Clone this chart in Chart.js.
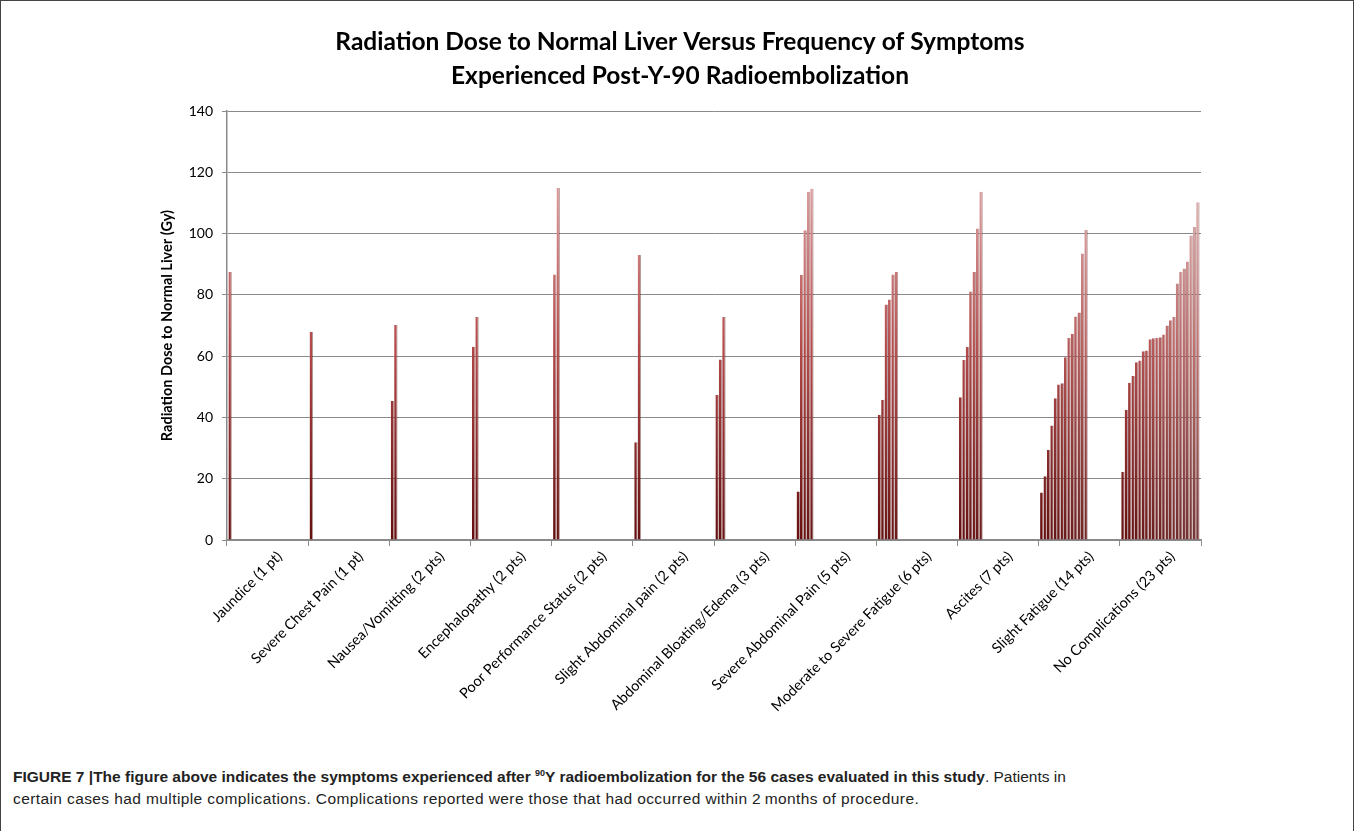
<!DOCTYPE html>
<html lang="en">
<head>
    <meta charset="UTF-8">
    <title>Radiation Dose to Normal Liver Versus Frequency of Symptoms</title>
    <script src="https://cdn.jsdelivr.net/npm/chart.js"></script>
    <style>
        body {
            margin: 0;
            background: #fff;
            overflow: hidden;
        }
        .frame {
            position: absolute;
            left: 0;
            top: 0;
            width: 1352px;
            height: 840px;
            border: 1px solid #444;
        }
        .plot {
            position: absolute;
            left: 0;
            top: 0;
        }
        .caption {
            position: absolute;
            left: 13px;
            top: 762px;
            font-family: "Liberation Sans", Arial, sans-serif;
            font-size: 15.5px;
            line-height: 22px;
            color: #222;
            white-space: nowrap;
        }
        .caption sup {
            font-size: 9px;
            vertical-align: 6px;
        }
        .caption .second {
            letter-spacing: 0.4px;
        }
    </style>
</head>
<body>
    <div class="frame"></div>
    <canvas id="doseChart" class="plot" width="1354" height="740"></canvas>
    <div class="caption">
        <b>FIGURE 7 |The figure above indicates the symptoms experienced after <sup>90</sup>Y radioembolization for the 56 cases evaluated in this study</b>. Patients in<br>
        <span class="second">certain cases had multiple complications. Complications reported were those that had occurred within 2&#8201;months of procedure.</span>
    </div>

    <script>
        // categories (x axis)
        const categories = [
            'Jaundice (1 pt)',
            'Severe Chest Pain (1 pt)',
            'Nausea/Vomitting (2 pts)',
            'Encephalopathy (2 pts)',
            'Poor Performance Status (2 pts)',
            'Slight Abdominal pain (2 pts)',
            'Abdominal Bloating/Edema (3 pts)',
            'Severe Abdominal Pain (5 pts)',
            'Moderate to Severe Fatigue (6 pts)',
            'Ascites (7 pts)',
            'Slight Fatigue (14 pts)',
            'No Complications (23 pts)'
        ];

        // dose per patient (Gy), sorted as in the figure
        const jaundice = [87.5];
        const severeChestPain = [68];
        const nauseaVomiting = [45.4, 70.2];
        const encephalopathy = [63.1, 72.8];
        const poorPerformance = [86.7, 115];
        const slightAbdominalPain = [31.9, 93];
        const bloatingEdema = [47.3, 58.9, 72.8];
        const severeAbdominalPain = [15.8, 86.6, 101.1, 113.7, 114.7];
        const modSevereFatigue = [40.8, 45.8, 76.9, 78.5, 86.7, 87.5];
        const ascites = [46.6, 58.8, 63, 81.1, 87.5, 101.7, 113.7];
        const slightFatigue = [15.5, 20.8, 29.5, 37.4, 46.3, 50.8, 51.2, 59.7, 66, 67.3, 73, 74.3, 93.5, 101.2];
        const noComplications = [22.3, 42.4, 51.3, 53.5, 58, 58.6, 61.6, 61.9, 65.5, 65.9, 66, 66.2, 67.1,
                                 70, 71.7, 72.8, 83.7, 87.5, 88.6, 90.9, 99.4, 102.2, 110.3];

        const groups = [jaundice, severeChestPain, nauseaVomiting, encephalopathy, poorPerformance,
                        slightAbdominalPain, bloatingEdema, severeAbdominalPain, modSevereFatigue,
                        ascites, slightFatigue, noComplications];

        const yMin = 0;
        const yMax = 140;
        const yStep = 20;

        const titleLines = [
            'Radiation Dose to Normal Liver Versus Frequency of Symptoms',
            'Experienced Post-Y-90 Radioembolization'
        ];
        const yTitle = 'Radiation Dose to Normal Liver (Gy)';

        const maxPatients = Math.max(...groups.map(g => g.length));

        function mix(a, b, t) {
            const c = a.map((v, i) => Math.round(v + (b[i] - v) * t));
            return `rgb(${c[0]}, ${c[1]}, ${c[2]})`;
        }

        // Excel style gradient, a bit paler for the later patients
        function barFill(ctx) {
            const chart = ctx.chart;
            const area = chart.chartArea;
            if (!area) return '#a04040';
            const t = (ctx.datasetIndex / (maxPatients - 1)) * 0.6;
            const g = chart.ctx.createLinearGradient(0, area.bottom, 0, area.top);
            g.addColorStop(0, mix([100, 14, 14], [130, 80, 80], t));
            g.addColorStop(0.45, mix([178, 72, 72], [198, 145, 145], t));
            g.addColorStop(0.85, mix([222, 160, 160], [228, 205, 205], t));
            g.addColorStop(1, mix([235, 200, 200], [235, 220, 220], t));
            return g;
        }

        // one dataset per patient slot, so bars pile up from the left of each category
        const datasets = [];
        for (let j = 0; j < maxPatients; j++) {
            datasets.push({
                label: `Patient ${j + 1}`,
                data: groups.map(g => (j < g.length ? g[j] : null)),
                backgroundColor: barFill,
                borderColor: 'rgba(90, 25, 25, 0.45)',
                borderWidth: { right: 1 },
                borderSkipped: 'bottom',
                categoryPercentage: 0.965,
                barPercentage: 1
            });
        }

        const gridGrey = '#8a8a8a';

        new Chart(document.getElementById('doseChart').getContext('2d'), {
            type: 'bar',
            data: {
                labels: categories,
                datasets: datasets
            },
            options: {
                responsive: false,
                animation: false,
                devicePixelRatio: 1,
                layout: {
                    padding: { left: 159, right: 153, top: 0, bottom: 0 }
                },
                plugins: {
                    legend: { display: false },
                    tooltip: { enabled: false },
                    title: {
                        display: true,
                        text: titleLines,
                        color: '#000',
                        font: { family: 'Lato', size: 24.5, weight: 'bold', lineHeight: 1.35 },
                        padding: { top: 26, bottom: 19 }
                    }
                },
                scales: {
                    x: {
                        grid: {
                            drawOnChartArea: false,
                            drawTicks: true,
                            tickLength: 6,
                            offset: true,
                            color: gridGrey
                        },
                        border: { color: gridGrey, width: 1.5 },
                        ticks: {
                            autoSkip: false,
                            minRotation: 45,
                            maxRotation: 45,
                            padding: 2,
                            labelOffset: 12,
                            color: '#000',
                            font: { family: 'Lato', size: 14.5 }
                        },
                        afterFit: scale => { scale.height = 200; }
                    },
                    y: {
                        min: yMin,
                        max: yMax,
                        ticks: {
                            stepSize: yStep,
                            padding: 9,
                            color: '#000',
                            font: { family: 'Lato', size: 14 }
                        },
                        grid: { color: gridGrey, tickLength: 5 },
                        border: { color: gridGrey, width: 1.5 },
                        title: {
                            display: true,
                            text: yTitle,
                            color: '#000',
                            font: { family: 'Lato', size: 14.5, weight: 'bold' },
                            padding: { top: 0, bottom: 2 }
                        },
                        afterFit: scale => { scale.width = 68; }
                    }
                }
            }
        });
    </script>
</body>
</html>
